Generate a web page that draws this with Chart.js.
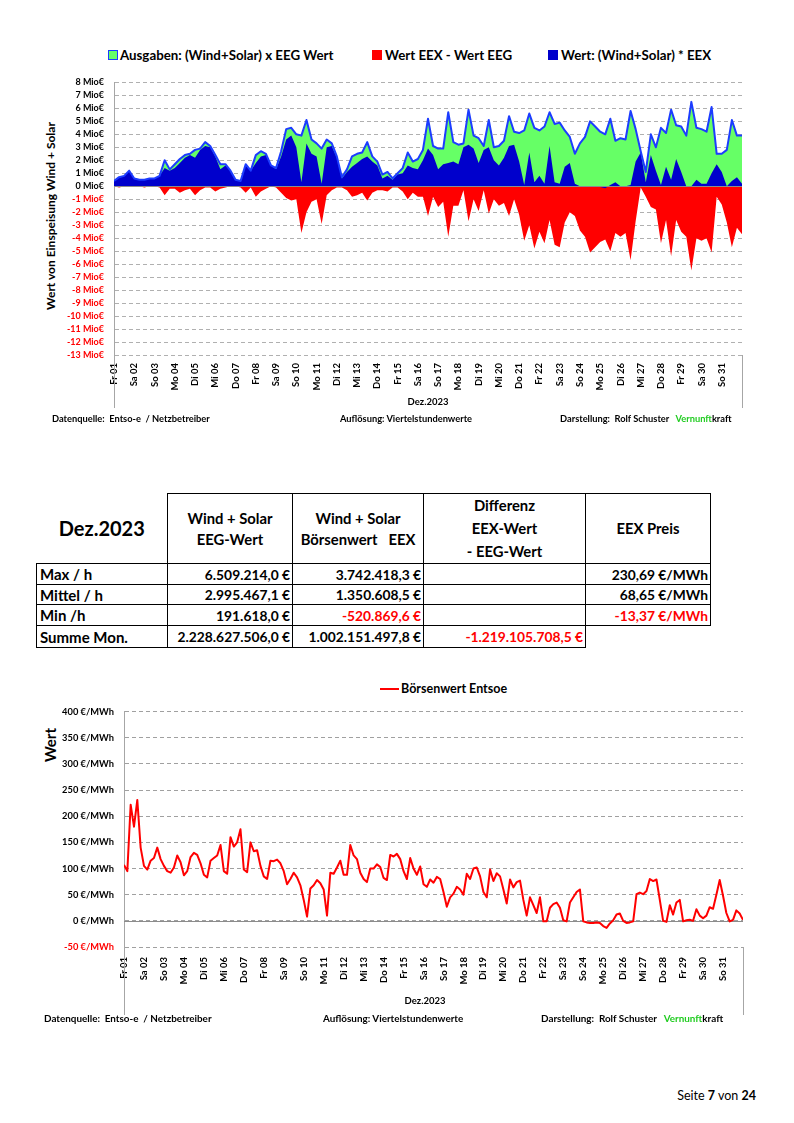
<!DOCTYPE html>
<html lang="de"><head><meta charset="utf-8">
<script src="https://cdn.jsdelivr.net/npm/chart.js@4/dist/chart.umd.min.js"></script>
<style>
html,body{margin:0;padding:0;background:#fff;}
body{width:794px;height:1123px;position:relative;overflow:hidden;font-family:Lato,'Liberation Sans',sans-serif;color:#000;}
.t{position:absolute;white-space:pre;font-weight:bold;}
.box{position:absolute;width:10px;height:10px;box-sizing:border-box;}
.wrap{position:absolute;left:0;width:794px;}
.vt{position:absolute;white-space:pre;font-weight:bold;transform:translate(-50%,-50%) rotate(-90deg);}
.ct{position:absolute;white-space:pre;font-weight:bold;transform:translate(-50%,-50%);}
table{position:absolute;border-collapse:collapse;table-layout:fixed;}
td{border:1.5px solid #000;font-weight:bold;padding:0 3px;white-space:pre;overflow:hidden;}
td.hd{text-align:center;font-size:14.8px;line-height:21px;}
td.lbl{text-align:left;font-size:15px;}
td.num{text-align:right;font-size:13.8px;padding-right:2px;}
</style></head><body>

<!-- Chart 1 legend -->
<div class="box" style="left:108px;top:50px;background:#66ff66;border:1px solid #1c3cff"></div>
<div class="t" style="left:120px;top:47px;font-size:13.3px;line-height:16px">Ausgaben: (Wind+Solar) x EEG Wert</div>
<div class="box" style="left:372px;top:50px;background:#ff0000"></div>
<div class="t" style="left:385px;top:47px;font-size:13.3px;line-height:16px">Wert EEX - Wert EEG</div>
<div class="box" style="left:548px;top:50px;background:#0000cc"></div>
<div class="t" style="left:561px;top:47px;font-size:13.3px;line-height:16px">Wert: (Wind+Solar) * EEX</div>

<div class="vt" style="left:50px;top:216px;font-size:12px">Wert von Einspeisung Wind + Solar</div>
<div class="wrap" style="top:67px;height:341px"><canvas id="c1"></canvas></div>
<div class="ct" style="left:428px;top:401px;font-size:9.5px">Dez.2023</div>
<div class="t" style="left:52px;top:413px;font-size:9.3px;line-height:12px">Datenquelle:  Entso-e  / Netzbetreiber</div>
<div class="t" style="left:340px;top:413px;font-size:9.3px;line-height:12px">Auflösung: Viertelstundenwerte</div>
<div class="t" style="left:560px;top:413px;font-size:9.3px;line-height:12px">Darstellung:  Rolf Schuster   <span style="color:#22cc22">Vernunft</span>kraft</div>

<table id="tbl" style="left:36px;top:493px"></table>

<!-- Chart 2 legend -->
<div style="position:absolute;left:380px;top:688px;width:19px;height:2px;background:#ff0000"></div>
<div class="t" style="left:401px;top:682px;font-size:12.5px;line-height:14px">Börsenwert Entsoe</div>
<div class="vt" style="left:50px;top:745px;font-size:15px">Wert</div>
<div class="wrap" style="top:696px;height:319px"><canvas id="c2"></canvas></div>
<div class="ct" style="left:425px;top:1000px;font-size:9.5px">Dez.2023</div>
<div class="t" style="left:44px;top:1012px;font-size:9.9px;line-height:12px">Datenquelle:  Entso-e  / Netzbetreiber</div>
<div class="t" style="left:323px;top:1012px;font-size:9.9px;line-height:12px">Auflösung: Viertelstundenwerte</div>
<div class="t" style="left:541px;top:1012px;font-size:9.9px;line-height:12px">Darstellung:  Rolf Schuster   <span style="color:#22cc22">Vernunft</span>kraft</div>

<div style="position:absolute;right:38px;top:1089px;font-size:12.5px;line-height:14px;white-space:pre">Seite <b>7</b> von <b>24</b></div>

<script>
// ---------- DATA ----------
const dayLabels = ['Fr 01','Sa 02','So 03','Mo 04','Di 05','Mi 06','Do 07','Fr 08','Sa 09','So 10','Mo 11','Di 12','Mi 13','Do 14','Fr 15','Sa 16','So 17','Mo 18','Di 19','Mi 20','Do 21','Fr 22','Sa 23','So 24','Mo 25','Di 26','Mi 27','Do 28','Fr 29','Sa 30','So 31'];

// Chart 1: values in Mio €, 4 samples per day (00,06,12,18 h) + end of month
const samplesPerDay1 = 4;
const eegValue = [
0.4,0.7,0.8,1.2, 0.6,0.5,0.5,0.6, 0.6,0.8,2.0,1.3, 1.7,2.1,2.4,2.5, 2.8,2.9,3.4,3.1,
2.4,1.7,1.7,1.2, 0.5,0.4,1.7,1.2, 2.4,2.7,2.5,1.6, 1.4,2.7,4.4,4.5, 4.0,3.9,5.1,3.6,
3.3,2.9,3.6,3.3, 2.3,0.7,1.3,2.3, 2.5,2.6,3.4,2.3, 1.9,0.9,1.1,0.6, 1.0,1.4,2.6,1.9,
2.1,2.8,5.2,3.1, 2.9,2.9,5.7,3.4, 3.2,3.3,5.9,3.9, 3.7,3.1,5.1,3.0, 3.1,3.5,5.4,4.2,
4.1,4.3,5.6,4.5, 4.3,4.6,5.7,4.8, 4.9,4.3,3.8,2.5, 3.3,3.8,5.0,4.6, 4.2,4.0,5.2,3.5,
3.7,3.6,5.8,4.4, 2.7,1.1,4.0,3.0, 4.5,4.1,5.9,4.7, 4.6,3.9,6.5,4.5, 4.4,4.2,6.1,2.5,
2.5,2.8,5.1,3.9, 3.9];
const eexValue = [
0.4,0.7,0.8,1.2, 0.6,0.5,0.5,0.6, 0.6,0.8,1.4,1.2, 1.4,1.8,2.2,2.4, 2.2,2.8,3.1,3.0,
2.3,1.3,1.6,1.2, 0.5,0.4,1.6,1.2, 1.8,2.3,2.4,1.6, 1.3,2.3,3.6,3.9, 3.0,0.3,3.3,2.5,
2.3,0.2,3.0,3.1, 2.2,0.6,1.1,1.5, 1.8,2.1,2.3,1.9, 1.6,0.6,0.8,0.5, 0.9,1.0,1.6,1.4,
1.3,2.0,2.9,2.4, 1.3,1.7,1.8,1.9, 1.7,3.0,3.2,2.9, 1.8,2.8,3.0,2.0, 1.6,2.2,3.1,3.2,
1.9,0.1,2.6,0.3, 0.8,0.2,3.1,0.3, 0.2,1.5,1.8,0.2, 0.0,0.0,0.0,0.0, -0.05,-0.15,0.1,0.3,
0.0,0.0,0.1,1.9, 2.6,0.3,2.4,1.2, 0.1,1.5,0.5,2.1, 1.1,0.0,0.0,0.5, 0.2,0.2,1.0,1.7,
1.1,0.0,0.4,0.7, 0.2];
const diffValue = [
0.0,-0.1,0.0,-0.05, -0.05,0.0,-0.1,0.0, 0.0,-0.1,-0.7,-0.2, -0.2,-0.5,-0.3,-0.2, -0.7,-0.3,-0.1,-0.1,
-0.4,-0.2,-0.1,0.0, 0.0,-0.1,-0.5,-0.1, -0.8,-0.4,-0.2,0.0, -0.1,-0.5,-0.9,-1.1, -1.0,-3.6,-2.0,-1.2,
-1.0,-2.9,-0.7,-0.3, -0.1,-0.1,-0.3,-0.8, -0.7,-0.5,-1.1,-0.5, -0.3,-0.3,-0.4,-0.1, -0.1,-0.4,-1.0,-0.5,
-0.8,-0.8,-2.3,-0.8, -1.6,-1.2,-3.9,-1.5, -1.5,-0.3,-2.7,-1.0, -1.9,-0.3,-2.1,-1.0, -1.5,-1.3,-2.3,-1.0,
-2.2,-4.2,-3.0,-4.8, -3.5,-4.4,-2.6,-4.5, -4.7,-2.8,-2.0,-2.3, -3.4,-3.9,-5.1,-4.7, -4.3,-4.1,-5.0,-3.6,
-3.9,-3.6,-5.7,-2.7, -0.1,-0.8,-1.6,-1.8, -4.4,-2.6,-5.4,-2.6, -3.5,-3.9,-6.5,-4.0, -4.2,-4.0,-5.1,-0.8,
-1.4,-2.8,-4.7,-3.2, -3.7];

// Chart 2: EEX price in €/MWh, 6 samples per day (every 4 h) + end of month
const samplesPerDay2 = 6;
const priceValue = [
107,95,222,180,231,140, 105,98,115,120,140,118, 105,95,92,102,125,112, 87,95,122,130,126,110, 88,83,115,120,125,145,
95,90,160,142,150,175, 98,93,150,133,135,105, 85,80,115,114,117,110, 95,70,80,92,83,68, 40,8,62,68,78,72,
60,10,92,90,102,115, 88,88,145,125,118,92, 80,74,100,100,108,103, 82,78,126,123,128,118, 95,80,120,100,88,104,
70,65,79,73,84,80, 55,27,45,52,65,60, 50,90,80,100,102,85, 55,45,98,76,91,85, 60,33,79,64,74,77,
40,10,45,30,15,45, -1,-1,25,32,35,25, 1,-1,35,45,55,60, -1,-3,-4,-4,-3,-4, -10,-13.4,-5,1,12,14,
0,-4,-3,-1,51,54, 51,57,80,76,79,40, 0,-2,30,12,35,40, -1,1,2,0,22,10, 5,10,26,23,50,78,
48,15,-1,2,20,14, 2];

// Table
const tableTitle = 'Dez.2023';
const tableHeaders = [['Wind + Solar','EEG-Wert'],['Wind + Solar','Börsenwert   EEX'],['Differenz','EEX-Wert','- EEG-Wert'],['EEX Preis']];
const rowLabels = ['Max / h','Mittel / h','Min /h','Summe Mon.'];
const colEEG = ['6.509.214,0 €','2.995.467,1 €','191.618,0 €','2.228.627.506,0 €'];
const colEEX = ['3.742.418,3 €','1.350.608,5 €','-520.869,6 €','1.002.151.497,8 €'];
const colDiff = ['','','','-1.219.105.708,5 €'];
const colPrice = ['230,69 €/MWh','68,65 €/MWh','-13,37 €/MWh', null];

// ---------- TABLE ----------
(function(){
  const t = document.getElementById('tbl');
  const widths = [131,125,131,162,125];
  const cg = document.createElement('colgroup');
  widths.forEach(w=>{const c=document.createElement('col');c.style.width=w+'px';cg.appendChild(c);});
  t.appendChild(cg);
  const hr = document.createElement('tr'); hr.style.height='67px';
  const h0 = document.createElement('td');
  h0.textContent = tableTitle;
  h0.style.cssText='border-top:none;border-left:none;font-size:20px;text-align:center;';
  hr.appendChild(h0);
  tableHeaders.forEach(lines=>{const td=document.createElement('td');td.className='hd';
    if(lines.length>2) td.style.lineHeight='23px';
    lines.forEach((s,k)=>{ if(k) td.appendChild(document.createElement('br')); td.appendChild(document.createTextNode(s)); });
    hr.appendChild(td);});
  t.appendChild(hr);
  const rh=[21,20,21,22];
  rowLabels.forEach((lab,i)=>{
    const tr=document.createElement('tr'); tr.style.height=rh[i]+'px';
    const a=document.createElement('td'); a.className='lbl'; a.textContent=lab; tr.appendChild(a);
    [colEEG,colEEX,colDiff,colPrice].forEach(col=>{
      const td=document.createElement('td');
      const v=col[i];
      if(v===null){td.style.border='none';}
      else{td.className='num';td.textContent=v;if(v.startsWith('-'))td.style.color='#ff0000';}
      tr.appendChild(td);
    });
    t.appendChild(tr);
  });
})();

// ---------- CHARTS ----------
const FONT = "Lato, 'Liberation Sans', sans-serif";
Chart.defaults.font.family = FONT;
const pts = (vals, perDay) => vals.map((v,i)=>({x:i/perDay, y:v}));

const framePlugin = {
  id:'frame',
  beforeDatasetsDraw(chart, args, o){ if(!o.zeroOnTop) drawZero(chart,o); },
  afterDatasetsDraw(chart, args, o){ if(o.zeroOnTop) drawZero(chart,o); },
  afterDraw(chart, args, o){
    const {ctx, chartArea:{left,right,bottom}} = chart;
    const end = chart.scales.x.bottom;
    ctx.save(); ctx.strokeStyle=o.frameColor; ctx.lineWidth=1;
    ctx.beginPath();
    ctx.moveTo(Math.round(left)+0.5,bottom); ctx.lineTo(Math.round(left)+0.5,end);
    ctx.moveTo(Math.round(right)+0.5,bottom); ctx.lineTo(Math.round(right)+0.5,end);
    ctx.stroke(); ctx.restore();
  }
};
function drawZero(chart,o){
  const {ctx, chartArea:{left,right}} = chart;
  const y0 = Math.round(chart.scales.y.getPixelForValue(0))+0.5;
  ctx.save(); ctx.strokeStyle=o.zeroColor; ctx.lineWidth=1.2;
  ctx.beginPath(); ctx.moveTo(left,y0); ctx.lineTo(right,y0); ctx.stroke(); ctx.restore();
}

const xTickFont = {family:FONT, size:9.5, weight:'bold'};
function xScale(height, pad){
  return {type:'linear', min:0, max:31,
    afterFit:s=>{s.height=height;},
    grid:{display:false}, border:{display:false},
    ticks:{stepSize:1, autoSkip:false, maxRotation:90, minRotation:90, padding:pad, color:'#000', font:xTickFont,
      callback:v=>dayLabels[v] ?? ''}};
}

new Chart(document.getElementById('c1'), {
  type:'line',
  data:{datasets:[
    {label:'Ausgaben: (Wind+Solar) x EEG Wert', data:pts(eegValue,samplesPerDay1), backgroundColor:'#66ff66', borderColor:'#1c3cff', borderWidth:2, borderJoinStyle:'round', fill:'origin', pointRadius:0, order:2},
    {label:'Wert EEX - Wert EEG', data:pts(diffValue,samplesPerDay1), backgroundColor:'#ff0000', borderColor:'rgba(0,0,0,0)', borderWidth:0, fill:'origin', pointRadius:0, order:3},
    {label:'Wert: (Wind+Solar) * EEX', data:pts(eexValue,samplesPerDay1), backgroundColor:'#0000cc', borderColor:'rgba(0,0,0,0)', borderWidth:0, fill:'origin', pointRadius:0, order:1}
  ]},
  options:{
    responsive:true, maintainAspectRatio:false, animation:false,
    layout:{padding:{top:10,right:52,left:0,bottom:0}},
    plugins:{legend:{display:false}, tooltip:{enabled:false}, filler:{drawTime:'beforeDatasetsDraw'},
      frame:{zeroColor:'#8c8c8c', frameColor:'#a6a6a6', zeroOnTop:true}},
    scales:{
      x:xScale(53,0),
      y:{min:-13, max:8, afterFit:s=>{s.width=114;},
        grid:{color:'#b0b0b0', drawTicks:false, lineWidth:1},
        border:{display:true, color:'#a6a6a6', dash:[4,3]},
        ticks:{stepSize:1, autoSkip:false, padding:10, font:{family:FONT,size:9,weight:'bold'}, color:c=>c.tick.value<0?'#ff0000':'#000',
          callback:v=>v+' Mio€'}}
    }
  },
  plugins:[framePlugin]
});

new Chart(document.getElementById('c2'), {
  type:'line',
  data:{datasets:[
    {label:'Börsenwert Entsoe', data:pts(priceValue,samplesPerDay2), borderColor:'#ff0000', backgroundColor:'#ff0000', borderWidth:2, borderJoinStyle:'round', fill:false, pointRadius:0}
  ]},
  options:{
    responsive:true, maintainAspectRatio:false, animation:false,
    layout:{padding:{top:10,right:51,left:0,bottom:0}},
    plugins:{legend:{display:false}, tooltip:{enabled:false},
      frame:{zeroColor:'#8c8c8c', frameColor:'#a6a6a6', zeroOnTop:false}},
    scales:{
      x:xScale(68,2),
      y:{min:-50, max:400, afterFit:s=>{s.width=124;},
        grid:{color:'#a0a0a0', drawTicks:false, lineWidth:1},
        border:{display:true, color:'#a6a6a6', dash:[4,3]},
        ticks:{stepSize:50, autoSkip:false, padding:10, font:{family:FONT,size:9.3,weight:'bold'}, color:c=>c.tick.value<0?'#ff0000':'#000',
          callback:v=>v+' €/MWh'}}
    }
  },
  plugins:[framePlugin]
});
</script>
</body></html>
